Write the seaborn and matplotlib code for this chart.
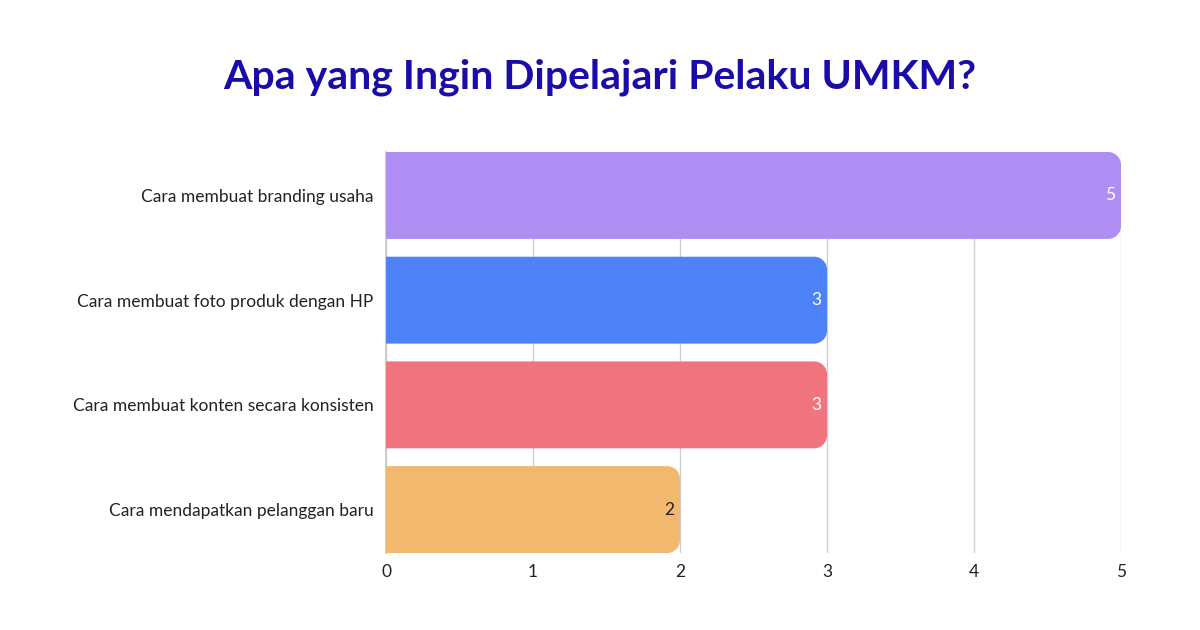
import matplotlib
matplotlib.use("Agg")
import matplotlib.pyplot as plt
import seaborn as sns
import pandas as pd
from matplotlib.patches import PathPatch
from matplotlib.path import Path

# Data
topics = [
    "Cara membuat branding usaha",
    "Cara membuat foto produk dengan HP",
    "Cara membuat konten secara konsisten",
    "Cara mendapatkan pelanggan baru",
]
counts = [5, 3, 3, 2]
bar_colors = ["#AF8EF4", "#4E82F8", "#EF747D", "#F2B86E"]
value_colors = ["white", "white", "white", "#222222"]
x_ticks = [0, 1, 2, 3, 4, 5]

sns.set_theme(style="white")
plt.rcParams["font.family"] = ["Lato", "DejaVu Sans"]

df = pd.DataFrame({"topic": topics, "count": counts})

fig = plt.figure(figsize=(12, 6.3), dpi=100)
ax = fig.add_axes([0.3217, 0.1222, 0.6125, 0.6365])

bar_h = 0.83
sns.barplot(data=df, x="count", y="topic", hue="topic", palette=bar_colors,
            legend=False, width=bar_h, ax=ax, zorder=3, saturation=1)

ax.set_xlim(0, 5)
ax.set_ylim(len(topics) - 1 + bar_h / 2, -bar_h / 2)

fig.canvas.draw()
# pixel scale so the corners stay circular
px_x = ax.transData.transform((1, 0))[0] - ax.transData.transform((0, 0))[0]
px_y = abs(ax.transData.transform((0, 1))[1] - ax.transData.transform((0, 0))[1])
radius_px = 13
rx, ry = radius_px / px_x, radius_px / px_y
k = 0.5523  # bezier factor for quarter circle


def right_rounded(x0, y0, w, h):
    x1, y1 = x0 + w, y0 + h
    verts = [
        (x0, y0),
        (x1 - rx, y0),
        (x1 - rx + k * rx, y0), (x1, y0 + ry - k * ry), (x1, y0 + ry),
        (x1, y1 - ry),
        (x1, y1 - ry + k * ry), (x1 - rx + k * rx, y1), (x1 - rx, y1),
        (x0, y1),
        (x0, y0),
    ]
    codes = [Path.MOVETO, Path.LINETO,
             Path.CURVE4, Path.CURVE4, Path.CURVE4,
             Path.LINETO,
             Path.CURVE4, Path.CURVE4, Path.CURVE4,
             Path.LINETO, Path.CLOSEPOLY]
    return Path(verts, codes)


for patch, color in zip(list(ax.patches), bar_colors):
    x0, y0 = patch.get_x(), patch.get_y()
    w, h = patch.get_width(), patch.get_height()
    patch.remove()
    ax.add_patch(PathPatch(right_rounded(x0, y0, w, h), facecolor=color,
                           edgecolor="none", zorder=3))

for i, (v, c) in enumerate(zip(counts, value_colors)):
    ax.text(v - 6 / px_x, i, str(v), ha="right", va="center",
            fontsize=12.5, color=c, zorder=4)

ax.set_xticks(x_ticks)
ax.grid(axis="x", color="#D0D0D0", linewidth=1, zorder=0)
ax.grid(axis="y", visible=False)
for side in ["top", "right", "bottom"]:
    ax.spines[side].set_visible(False)
ax.spines["left"].set_color("#C8C8C8")
ax.spines["left"].set_zorder(2)
ax.tick_params(axis="both", length=0, labelsize=12.5, colors="#222222")
ax.tick_params(axis="y", pad=9)
ax.tick_params(axis="x", pad=8)
ax.set_xlabel("")
ax.set_ylabel("")

fig.text(0.5, 0.878, "Apa yang Ingin Dipelajari Pelaku UMKM?", ha="center",
         va="center", fontsize=29.5, fontweight="bold", color="#1A0CA8")

fig.savefig("out.png", dpi=100, facecolor="white")
